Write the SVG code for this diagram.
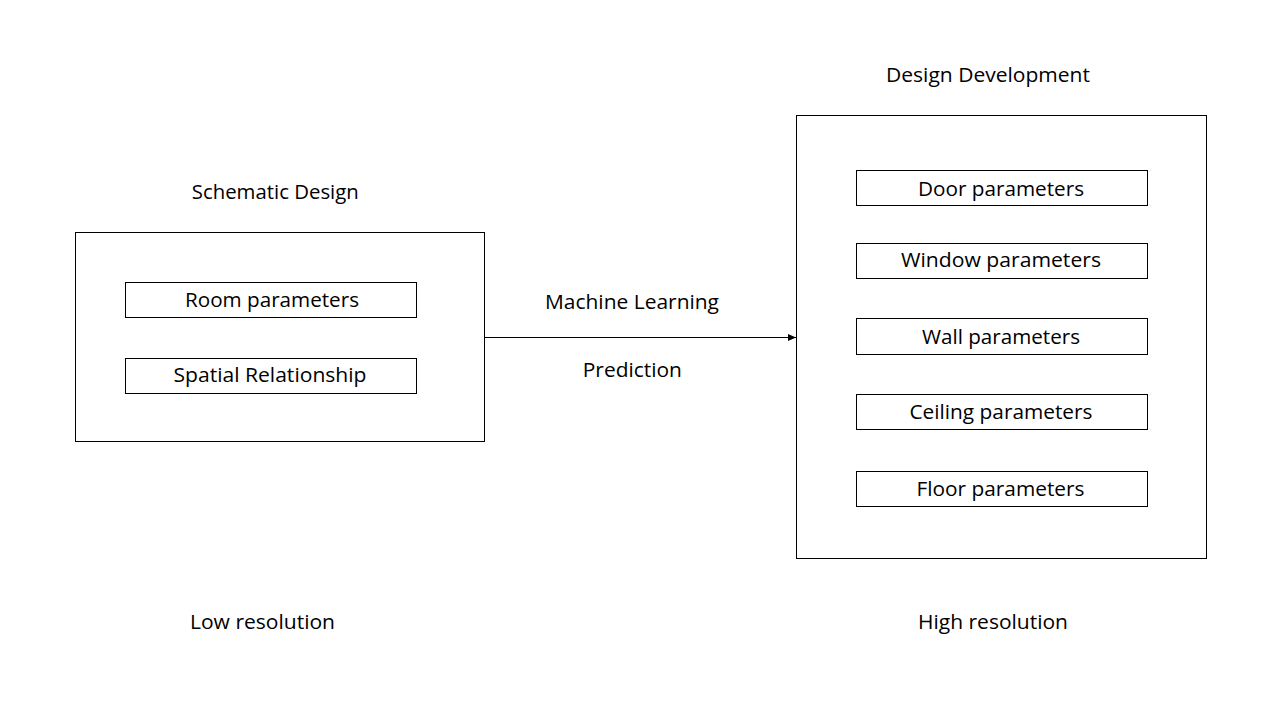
<svg xmlns="http://www.w3.org/2000/svg" width="1280" height="720" viewBox="0 0 1280 720">
<style>
  .box { fill: #ffffff; stroke: #000000; stroke-width: 1; }
  .lbl { font-family: "Open Sans", "Liberation Sans", sans-serif; font-size: 20px; fill: #000000; text-anchor: middle; }
  .conn { stroke: #000000; stroke-width: 1; fill: none; }
</style>
<defs>
  <marker id="arrow" markerWidth="8" markerHeight="7" refX="8" refY="3.5" orient="auto" markerUnits="userSpaceOnUse">
    <path d="M0,0 L8,3.5 L0,7 Z" fill="#000000"/>
  </marker>
</defs>
<rect width="1280" height="720" fill="#ffffff"/>

<g id="schematic-design">
  <text class="lbl" x="275.3" y="199" textLength="167" lengthAdjust="spacingAndGlyphs">Schematic Design</text>
  <rect class="box" x="75.5" y="232.5" width="409" height="209"/>
  <g id="room-parameters">
    <rect class="box" x="125.5" y="282.5" width="291" height="35"/>
    <text class="lbl" x="272" y="306.5" textLength="174" lengthAdjust="spacingAndGlyphs">Room parameters</text>
  </g>
  <g id="spatial-relationship">
    <rect class="box" x="125.5" y="358.5" width="291" height="35"/>
    <text class="lbl" x="270" y="381.5" textLength="193" lengthAdjust="spacingAndGlyphs">Spatial Relationship</text>
  </g>
</g>

<g id="design-development">
  <text class="lbl" x="988" y="82" textLength="204" lengthAdjust="spacingAndGlyphs">Design Development</text>
  <rect class="box" x="796.5" y="115.5" width="410" height="443"/>
  <g id="door-parameters">
    <rect class="box" x="856.5" y="170.5" width="291" height="35"/>
    <text class="lbl" x="1001" y="195.5" textLength="166" lengthAdjust="spacingAndGlyphs">Door parameters</text>
  </g>
  <g id="window-parameters">
    <rect class="box" x="856.5" y="243.5" width="291" height="35"/>
    <text class="lbl" x="1001" y="267" textLength="200" lengthAdjust="spacingAndGlyphs">Window parameters</text>
  </g>
  <g id="wall-parameters">
    <rect class="box" x="856.5" y="318.5" width="291" height="36"/>
    <text class="lbl" x="1001" y="344" textLength="158" lengthAdjust="spacingAndGlyphs">Wall parameters</text>
  </g>
  <g id="ceiling-parameters">
    <rect class="box" x="856.5" y="394.5" width="291" height="35"/>
    <text class="lbl" x="1001" y="419" textLength="183" lengthAdjust="spacingAndGlyphs">Ceiling parameters</text>
  </g>
  <g id="floor-parameters">
    <rect class="box" x="856.5" y="471.5" width="291" height="35"/>
    <text class="lbl" x="1000.5" y="496" textLength="168" lengthAdjust="spacingAndGlyphs">Floor parameters</text>
  </g>
</g>

<g id="connectors">
  <line class="conn" x1="485" y1="337.5" x2="796" y2="337.5" marker-end="url(#arrow)"/>
  <text class="lbl" x="632" y="309" textLength="174" lengthAdjust="spacingAndGlyphs">Machine Learning</text>
  <text class="lbl" x="632.3" y="376.5" textLength="99" lengthAdjust="spacingAndGlyphs">Prediction</text>
</g>

<g id="resolution-labels">
  <text class="lbl" x="262.5" y="629" textLength="145" lengthAdjust="spacingAndGlyphs">Low resolution</text>
  <text class="lbl" x="993" y="629" textLength="150" lengthAdjust="spacingAndGlyphs">High resolution</text>
</g>
</svg>
